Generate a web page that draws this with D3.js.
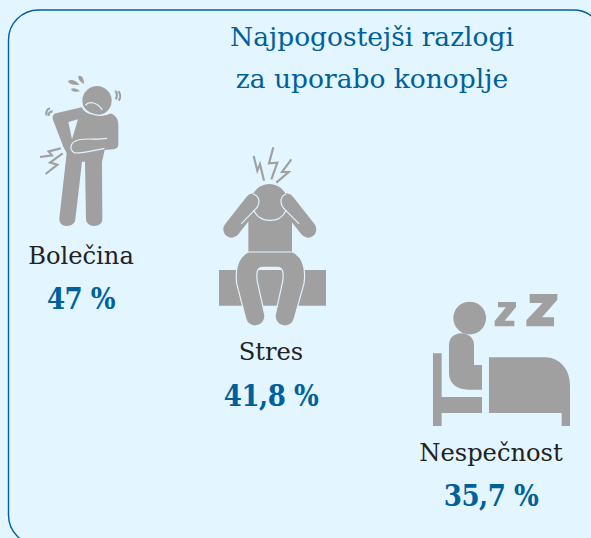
<!DOCTYPE html>
<html lang="sl">
<head>
    <meta charset="UTF-8">
    <title>Najpogostejši razlogi za uporabo konoplje</title>
    <script src="https://d3js.org/d3.v7.min.js"></script>
    <style>
        html, body { margin: 0; padding: 0; background: #e3f5ff; }
        svg { display: block; }
        text { font-family: "DejaVu Serif", serif; text-anchor: middle; }
        .title { font-size: 26.5px; fill: #00609c; }
        .label { font-size: 24.2px; fill: #222; }
        .value { font-size: 29px; font-weight: bold; fill: #00609c; font-stretch: condensed; letter-spacing: -0.5px; }
        .solid { fill: #a0a0a0; }
        .over { fill: #a0a0a0; stroke: #e3f5ff; stroke-width: 3.5; }
        .cut { fill: none; stroke: #e3f5ff; stroke-width: 3.5; stroke-linecap: round; }
        .bolt { fill: none; stroke: #a0a0a0; stroke-width: 6.5; }
    </style>
</head>
<body>
    <div id="chart"></div>

    <script>
        const categories = ["Bolečina", "Stres", "Nespečnost"];
        const values = [47, 41.8, 35.7];
        const titleLines = ["Najpogostejši razlogi", "za uporabo konoplje"];

        // icons are traced at 3x, one entry per category
        const icons = {
            "Bolečina": {
                solid: [
                    "M291 108a44 44 0 1 0 .1 0z",
                    "M168 190L245 172C255 195 300 205 330 190C348 195 355 210 355 225L355 282C355 292 348 298 338 298L314 300L306 335L307 508C307 520 298 528 282 528C268 528 259 520 258 508L255 335L246 335L226 508C224 522 214 528 200 528C186 528 177 520 178 505L200 310L190 290L160 212C156 202 158 192 168 190zM205 216L216 268L234 208z",
                    "M204 93C216 84 232 96 238 104C228 106 206 104 204 93z",
                    "M235 78C244 74 252 84 252 102C244 98 233 88 235 78z",
                    "M213 117C222 111 234 119 240 124C230 127 215 126 213 117z"
                ],
                over: [],
                cut: [
                    "M248 170C262 192 300 205 332 188",
                    "M257 165C268 152 292 158 306 178",
                    "M320 265C290 270 260 264 235 270C210 276 205 300 225 309C250 310 285 300 312 296"
                ],
                bolt: [
                    "M182 295L146 304L156 316L120 321",
                    "M188 310L150 338L172 344L137 372",
                    "M346 122C352 128 352 142 347 148",
                    "M355 124C362 132 362 144 356 152",
                    "M140 196C136 186 142 176 150 175",
                    "M146 198C144 190 150 184 158 184"
                ]
            },
            "Stres": {
                solid: [
                    "M57 390H378V497H57z",
                    "M145 200H276V345H145z",
                    "M208 132a55 55 0 1 0 .1 0z",
                    "M140 170L75 253A25 25 0 0 0 115 283L180 200A25 25 0 0 0 140 170z",
                    "M279 170L344 253A25 25 0 0 1 304 283L239 200A25 25 0 0 1 279 170z"
                ],
                over: [
                    "M145 336C115 350 105 385 110 430L137 535C145 568 192 565 195 528L172 425C168 395 172 382 188 382H232C248 382 252 395 248 425L225 528C228 565 275 568 283 535L312 430C318 385 308 350 278 336z"
                ],
                cut: [
                    "M125 250L162 212C180 250 238 252 258 212L296 250",
                    "M160 162C182 170 182 195 162 212",
                    "M258 162C238 170 238 195 258 212"
                ],
                bolt: [
                    "M161 48L172 92L180 72L192 122",
                    "M220 22L207 70L232 68L214 118",
                    "M274 58L246 96L266 96L229 128"
                ]
            },
            "Nespečnost": {
                solid: [
                    "M149 50a49 49 0 1 0 .1 0z",
                    "M124 145C146 145 162 160 162 180L162 240H186V314H145C110 314 87 295 87 265V180C87 160 102 145 124 145z",
                    "M39 205H65V336H186V384H65V423H39z",
                    "M207 217H375C420 217 450 255 450 300V423H425V384H207z",
                    "M234 51H288V66L254 107H283V124H224V108L258 67H234z",
                    "M329 27H412V44L366 97H402V124H319V106L368 54H329z"
                ],
                over: [],
                cut: [],
                bolt: []
            }
        };

        const width = 591, height = 538;

        const x = d3.scaleOrdinal().domain(categories).range([81, 271, 491]);
        const labelY = d3.scaleOrdinal().domain(categories).range([264, 360, 461]);
        const valueY = d3.scaleOrdinal().domain(categories).range([309, 406, 506]);
        const iconAt = d3.scaleOrdinal().domain(categories).range([[0, 50], [200, 140], [420, 285]]);

        const pct = d => String(d).replace(".", ",") + " %";

        const svg = d3.select("#chart").append("svg")
            .attr("width", width)
            .attr("height", height);

        // frame runs off the bottom and right of the picture
        svg.append("rect")
            .attr("x", 8.5)
            .attr("y", 10)
            .attr("width", 595)
            .attr("height", 535)
            .attr("rx", 30)
            .attr("fill", "none")
            .attr("stroke", "#00609c")
            .attr("stroke-width", 1.4);

        svg.selectAll(".title")
            .data(titleLines)
            .enter()
            .append("text")
            .attr("class", "title")
            .attr("x", 372)
            .attr("y", (d, i) => 46 + i * 42)
            .text(d => d);

        const group = svg.selectAll(".item")
            .data(categories)
            .enter()
            .append("g")
            .attr("class", "item");

        const icon = group.append("g")
            .attr("transform", d => `translate(${iconAt(d)[0]},${iconAt(d)[1]}) scale(${1 / 3})`);

        ["solid", "over", "cut", "bolt"].forEach(kind => {
            icon.selectAll("path." + kind)
                .data(d => icons[d][kind])
                .enter()
                .append("path")
                .attr("class", kind)
                .attr("d", d => d);
        });

        group.append("text")
            .attr("class", "label")
            .attr("x", d => x(d))
            .attr("y", d => labelY(d))
            .text(d => d);

        group.append("text")
            .attr("class", "value")
            .attr("x", d => x(d))
            .attr("y", d => valueY(d))
            .text((d, i) => pct(values[i]));
    </script>
</body>
</html>
